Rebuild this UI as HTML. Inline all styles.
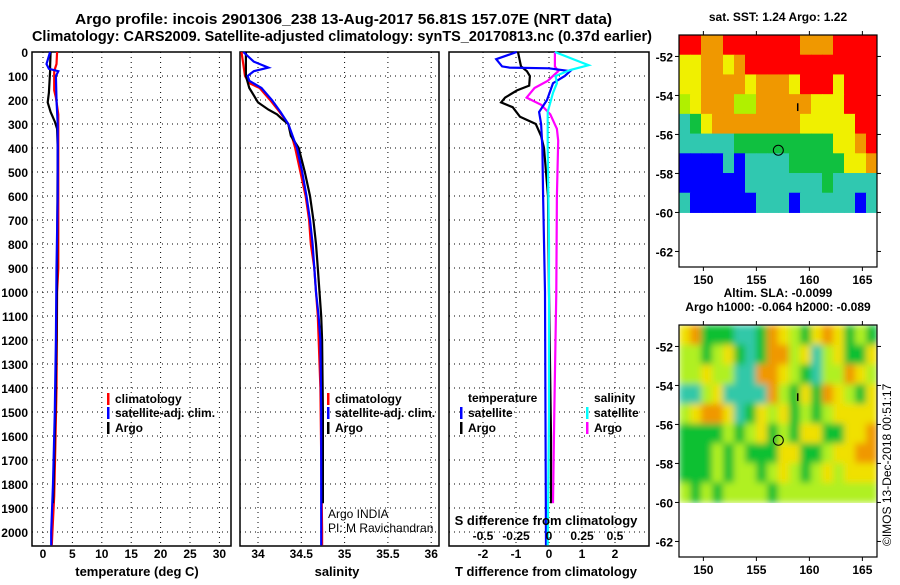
<!DOCTYPE html>
<html><head><meta charset="utf-8">
<style>
body{margin:0;background:#fff;width:900px;height:580px;overflow:hidden}
svg{font-family:"Liberation Sans",sans-serif}
.b{font-weight:bold;font-size:12px}
</style></head>
<body>
<svg id="chart" width="900" height="580" viewBox="0 0 900 580" xmlns="http://www.w3.org/2000/svg">
<defs>
<filter id="blur" x="0" y="0" width="1" height="1"><feGaussianBlur stdDeviation="3.5" edgeMode="duplicate"/></filter>
<clipPath id="slaclip"><rect x="679" y="325" width="198" height="178"/></clipPath>
</defs>
<text x="75" y="24" textLength="537" lengthAdjust="spacingAndGlyphs" font-weight="bold" font-size="15">Argo profile: incois 2901306_238 13-Aug-2017 56.81S 157.07E (NRT data)</text>
<text x="32" y="41" textLength="620" lengthAdjust="spacingAndGlyphs" font-weight="bold" font-size="14.5">Climatology: CARS2009. Satellite-adjusted climatology: synTS_20170813.nc (0.37d earlier)</text>
<g id="g"></g>
</svg>
<script>
// ---- data ----
const depthTicks=[0,100,200,300,400,500,600,700,800,900,1000,1100,1200,1300,1400,1500,1600,1700,1800,1900,2000];
const tempTicks=[0,5,10,15,20,25,30];
const salTicks=[34,34.5,35,35.5,36];
const tdiffTicks=[-2,-1,0,1,2];
const sdiffTicks=[-0.5,-0.25,0,0.25,0.5];

const tClimDepth=[0,50,80,160,190,260,350,600,900,1000,1400,1650,1850,2000,2055];
const tClimVal=[2.4,2.3,1.9,1.9,2.2,2.6,2.6,2.6,2.6,2.4,2.3,2.1,1.9,1.6,1.5];
const tSatDepth=[0,50,70,80,100,200,300,600,900,1200,1500,1800,2000,2055];
const tSatVal=[1.2,0.6,1.0,2.6,2.2,2.3,2.5,2.5,2.3,2.2,2.0,1.7,1.4,1.4];
const tArgoDepth=[0,60,80,170,210,250,290,320,400,900,1200,1500,1800,1880];
const tArgoVal=[1.3,1.2,1.2,1.0,0.8,1.3,2.0,2.4,2.5,2.4,2.3,2.1,1.8,1.7];

const sClimDepth=[0,100,130,150,200,250,300,400,500,600,700,800,900,1000,1100,1400,2000,2055];
const sClimVal=[33.81,33.85,33.9,34.02,34.14,34.25,34.35,34.43,34.49,34.55,34.59,34.61,34.65,34.67,34.69,34.72,34.74,34.74];
const sSatDepth=[0,40,65,80,100,120,150,200,250,300,400,500,600,700,800,900,1000,1100,1200,1500,2055];
const sSatVal=[33.83,33.95,34.12,33.95,33.88,33.9,34.04,34.16,34.26,34.35,34.45,34.51,34.56,34.6,34.63,34.65,34.67,34.7,34.72,34.73,34.73];
const sArgoDepth=[0,100,150,180,210,240,260,280,300,350,400,500,600,700,800,900,1000,1100,1200,1500,1880];
const sArgoVal=[33.86,33.86,33.9,33.95,34.0,34.12,34.22,34.28,34.35,34.38,34.47,34.54,34.6,34.64,34.67,34.69,34.71,34.73,34.74,34.75,34.75];

const dTSatDepth=[0,30,60,65,68,80,100,130,200,250,300,400,600,1000,2055];
const dTSatVal=[-0.98,-1.6,-1.42,-1.2,0,0.64,0.48,0.12,-0.06,-0.3,-0.24,-0.2,-0.18,-0.12,-0.09];
const dTArgoDepth=[0,40,60,80,100,140,160,190,210,230,270,300,350,400,600,1000,1600,1880];
const dTArgoVal=[-0.94,-0.88,-0.85,-0.67,-0.58,-0.6,-0.97,-1.33,-1.45,-1.1,-0.88,-0.4,-0.24,-0.15,-0.03,0,0.06,0.06];
const dSSatDepth=[0,40,55,75,100,130,170,250,400,800,1500,2055];
const dSSatVal=[0.045,0.23,0.3,0.16,0.05,0.06,0.03,-0.01,-0.01,0,0,-0.01];
const dSArgoDepth=[0,60,80,120,150,190,220,260,320,370,600,1000,1500,1880];
const dSArgoVal=[0.045,0.045,0.07,-0.01,-0.11,-0.17,-0.06,0.01,0.06,0.07,0.06,0.055,0.04,0.03];

const mapLonTicks=[150,155,160,165];
const mapLatTicks=[-52,-54,-56,-58,-60,-62];
const sstRows=[
"RROORRRRRRROOORRRR",
"YYOOYORRRRRRRRRRRR",
"YYOOOOYOOOYRRRYRRR",
"GYOOOGGOOOOOYYYRRR",
"tgYOOOOOOOOYYYYYRR",
"tttttgggggggggYYOR",
"BBBBtBttttgggggYYO",
"BBBBBBtttttttgtttt",
"tBBBBBBtttBtttttBt"];
const slaRows=[
"YOgggttgOYGgYOYgGg",
"GGgGYgtgOOGYtGYggY",
"GGYGGttOOYGgtGGOYG",
"ttGYttttOGgYgOYGgY",
"GYOOYtgYGYgGgGYYYY",
"ggggGgGYgGgYYggYYO",
"gggGgGgggYYggGYYOO",
"gggGgGGgGYGgGYGYYY",
"GgGgGGGGgGGGGGGGGG"];
const floatLon=157.07, floatLat=-56.81;

// ---- drawing ----
const NS="http://www.w3.org/2000/svg";
const G=document.getElementById('g');
function mk(tag,at,parent){const e=document.createElementNS(NS,tag);for(const k in at)e.setAttribute(k,at[k]);(parent||G).appendChild(e);return e;}
const Y0=52,YPX=0.24,YB=546;
const yD=d=>Y0+d*YPX;

function panel(name,x0,x1,xs,ticks,fmt,doLabels){
  const grp=mk('g',{});
  
  
  ticks.forEach(t=>{const x=xs(t);mk('line',{x1:x,x2:x,y1:Y0,y2:YB,stroke:'#000','stroke-dasharray':'1,4','stroke-width':1},grp);
    const tl=mk('text',{x:x,y:YB+12,'text-anchor':'middle',class:'b'},grp);tl.textContent=fmt(t);
    });
  depthTicks.forEach(d=>{if(d>0)mk('line',{x1:x0,x2:x1,y1:yD(d),y2:yD(d),stroke:'#000','stroke-dasharray':'1,4','stroke-width':1},grp);
    if(doLabels){const tl=mk('text',{x:28,y:yD(d)+5,'text-anchor':'end',class:'b'},grp);tl.textContent=d;
      }});
  mk('rect',{x:x0,y:Y0,width:x1-x0,height:YB-Y0,fill:'none',stroke:'#000','stroke-width':1.5},grp);
  return grp;
}
function line(name,ds,vs,xs,col){
  const pts=ds.map((d,i)=>xs(vs[i]).toFixed(1)+','+yD(d).toFixed(1)).join(' ');
  const p=mk('polyline',{points:pts,fill:'none',stroke:col,'stroke-width':2.2});
  
  
}
function txt(name,x,y,s,at){const t=mk('text',Object.assign({x:x,y:y},at||{}));t.textContent=s;
  return t;}
function legend(name,x,y,col,label){
  const r=mk('rect',{x:x,y:y-10,width:2.5,height:12,fill:col});
  
  txt(name,x+8,y,label,{class:'b'});
}

const xT=t=>43+5.88*t;
const xS=s=>258+(s-34)*86.6;
const xDT=t=>549+33*t;
const xDS=s=>549+132*s;

panel('temperature-panel',32,231,xT,tempTicks,t=>t,true);
panel('salinity-panel',240,439,xS,salTicks,t=>t,false);
panel('difference-panel',449,649,xDT,tdiffTicks,t=>t,false);

line('temp-climatology-line',tClimDepth,tClimVal,xT,'#ff0000');
line('temp-argo-line',tArgoDepth,tArgoVal,xT,'#000');
line('temp-satellite-line',tSatDepth,tSatVal,xT,'#0000ff');
line('sal-climatology-line',sClimDepth,sClimVal,xS,'#ff0000');
line('sal-argo-line',sArgoDepth,sArgoVal,xS,'#000');
line('sal-satellite-line',sSatDepth,sSatVal,xS,'#0000ff');
line('tdiff-argo-line',dTArgoDepth,dTArgoVal,xDT,'#000');
line('sdiff-argo-line',dSArgoDepth,dSArgoVal,xDS,'#ff00ff');
line('tdiff-satellite-line',dTSatDepth,dTSatVal,xDT,'#0000ff');
line('sdiff-satellite-line',dSSatDepth,dSSatVal,xDS,'#00ffff');

txt('temperature-axis-title',137,576,'temperature (deg C)',{'text-anchor':'middle',class:'b',style:'font-size:13px'});
txt('salinity-axis-title',337,576,'salinity',{'text-anchor':'middle',class:'b',style:'font-size:13px'});
txt('t-difference-axis-title',546,576,'T difference from climatology',{'text-anchor':'middle',class:'b',style:'font-size:13px'});
txt('s-difference-axis-title',546,525,'S difference from climatology',{'text-anchor':'middle',class:'b',style:'font-size:13px'});
sdiffTicks.forEach(s=>txt('s-diff-tick-label',xDS(s),540,String(s),{'text-anchor':'middle',class:'b'}));

legend('legend-climatology',107,403,'#ff0000','climatology');
legend('legend-satellite-adj',107,417,'#0000ff','satellite-adj. clim.');
legend('legend-argo',107,432,'#000','Argo');
legend('legend-sal-climatology',327,403,'#ff0000','climatology');
legend('legend-sal-satellite-adj',327,417,'#0000ff','satellite-adj. clim.');
legend('legend-sal-argo',327,432,'#000','Argo');
txt('legend-temperature-heading',468,402,'temperature',{class:'b'});
legend('legend-t-satellite',460,417,'#0000ff','satellite');
legend('legend-t-argo',460,432,'#000','Argo');
txt('legend-salinity-heading',594,402,'salinity',{class:'b'});
legend('legend-s-satellite',586,417,'#00ffff','satellite');
legend('legend-s-argo',586,432,'#ff00ff','Argo');
txt('pi-credit-1',328,518,'Argo INDIA',{style:'font-size:12px'});
txt('pi-credit-2',328,532,'PI: M Ravichandran',{style:'font-size:12px'});

// ---- maps ----
const COL={R:'#ff0000',O:'#f09800',Y:'#f0f000',G:'#b0f000',g:'#10c040',t:'#30c8b0',B:'#0000ff'};
const SLA={R:'#ff0000',O:'#f09800',Y:'#f0e000',G:'#b0f020',g:'#10c030',t:'#30c8a8',B:'#0000ff'};
function map(name,top,rows,pal,title1,title2,smooth){
  const L=679,R=877,bot=top+232;
  const lx=lon=>L+(lon-147.7)*10.6;
  const ly=lat=>top+(-50.9-lat)*19.5;
  const grp=mk('g',{});
  let cg=grp;
  if(smooth){const outer=mk('g',{'clip-path':'url(#slaclip)'},grp);cg=mk('g',{filter:'url(#blur)'},outer);}
  const nc=rows[0].length, nr=rows.length;
  const cw=(R-L)/nc;
  rows.forEach((row,r)=>{for(let c=0;c<nc;c++){
    const y1=ly(-50.9-r*(9.1/nr)),y2=ly(-50.9-(r+1)*(9.1/nr));
    const cell=mk('rect',{x:L+c*cw,y:y1,width:cw+0.5,height:y2-y1+0.5,fill:pal[row[c]]},cg);
    }});
  mk('rect',{x:L,y:top,width:R-L,height:bot-top,fill:'none',stroke:'#000','stroke-width':1.2},grp);
  mapLonTicks.forEach(lon=>{const x=lx(lon);mk('line',{x1:x,x2:x,y1:top-4,y2:top,stroke:'#000'},grp);mk('line',{x1:x,x2:x,y1:bot,y2:bot+4,stroke:'#000'},grp);
    txt('map-lon-label',x,bot+17,lon,{'text-anchor':'middle',class:'b'});});
  mapLatTicks.forEach(lat=>{const y=ly(lat);mk('line',{x1:L-4,x2:L,y1:y,y2:y,stroke:'#000'},grp);mk('line',{x1:R,x2:R+4,y1:y,y2:y,stroke:'#000'},grp);
    txt('map-lat-label',L-6,y+5,lat,{'text-anchor':'end',class:'b'});});
  const m=mk('circle',{cx:lx(floatLon),cy:ly(floatLat),r:5,fill:'none',stroke:'#000','stroke-width':1});
  
  mk('line',{x1:lx(158.9),x2:lx(158.9),y1:ly(-54.4),y2:ly(-54.8),stroke:'#000','stroke-width':1.5});
  txt(name+'-title',778,top-14-(title2?14:0),title1,{'text-anchor':'middle',class:'b'});
  if(title2)txt(name+'-subtitle',778,top-14,title2,{'text-anchor':'middle',class:'b'});
}
map('sst-map',35,sstRows,COL,'sat. SST: 1.24 Argo: 1.22','',false);
map('sla-map',325,slaRows,SLA,'Altim. SLA: -0.0099','Argo h1000: -0.064 h2000: -0.089',true);
txt('imos-timestamp',0,0,'©IMOS 13-Dec-2018 00:51:17',{transform:'translate(891,546) rotate(-90)',style:'font-size:12px'});
</script>
</body></html>
